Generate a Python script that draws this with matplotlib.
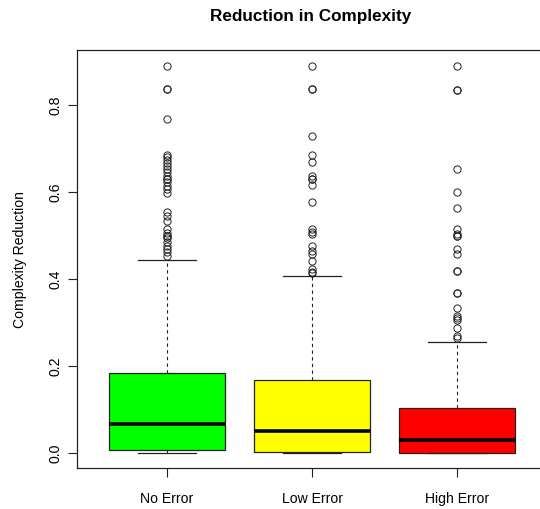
import matplotlib.pyplot as plt

plt.rcParams["font.family"] = ["Liberation Sans", "DejaVu Sans"]

# groups and box statistics
groups = ["No Error", "Low Error", "High Error"]
colors = ["#00ff00", "#ffff00", "#ff0000"]

q1 = [0.006, 0.002, 0.0]
medians = [0.066, 0.050, 0.029]
q3 = [0.182, 0.167, 0.102]
whisk_lo = [0.0, 0.0, 0.0]
whisk_hi = [0.442, 0.405, 0.253]

# outliers (repeated values are overlapping points)
out_none = [0.889, 0.835, 0.835, 0.767, 0.685, 0.679, 0.672, 0.666, 0.659,
            0.652, 0.645, 0.637, 0.629, 0.629, 0.623, 0.614, 0.606, 0.596,
            0.553, 0.545, 0.533, 0.514, 0.504, 0.499, 0.499, 0.493, 0.483,
            0.476, 0.468, 0.460, 0.453]
out_low = [0.889, 0.835, 0.835, 0.727, 0.685, 0.669, 0.636, 0.629, 0.629,
           0.616, 0.576, 0.514, 0.508, 0.503, 0.474, 0.464, 0.456, 0.441,
           0.422, 0.416, 0.413]
out_high = [0.889, 0.833, 0.833, 0.651, 0.599, 0.563, 0.514, 0.503, 0.497,
            0.497, 0.468, 0.456, 0.418, 0.418, 0.366, 0.366, 0.333, 0.314,
            0.310, 0.305, 0.287, 0.267, 0.263]
outliers = [out_none, out_low, out_high]

stats = []
for i, name in enumerate(groups):
    stats.append(dict(label=name, med=medians[i], q1=q1[i], q3=q3[i],
                      whislo=whisk_lo[i], whishi=whisk_hi[i],
                      fliers=outliers[i]))

fig = plt.figure(figsize=(5.4, 5.1), dpi=100)
ax = fig.add_axes([77 / 540, 1 - 469 / 510, 470 / 540, 418 / 510])

bp = ax.bxp(stats, positions=[1, 2, 3], widths=0.8, patch_artist=True,
            boxprops=dict(edgecolor="#222222", linewidth=0.9),
            medianprops=dict(color="black", linewidth=2.6, solid_capstyle="butt"),
            whiskerprops=dict(color="#222222", linewidth=0.8, linestyle=(0, (3, 3))),
            capprops=dict(color="#222222", linewidth=0.9),
            capwidths=0.4,
            flierprops=dict(marker="o", markersize=5.2, markerfacecolor="none",
                            markeredgecolor="#222222", markeredgewidth=0.7))
for patch, c in zip(bp["boxes"], colors):
    patch.set_facecolor(c)

ax.set_xlim(0.38, 3.62)
ax.set_ylim(-0.0356, 0.9256)
ax.set_xticks([1, 2, 3])
ax.set_xticklabels(groups, fontsize=10.1)
ax.set_yticks([0.0, 0.2, 0.4, 0.6, 0.8])
ax.set_yticklabels(["0.0", "0.2", "0.4", "0.6", "0.8"], rotation=90,
                   va="center", fontsize=10.1)
ax.tick_params(axis="both", length=6.5, width=0.8, color="#222222")
ax.tick_params(axis="x", pad=10)
ax.tick_params(axis="y", pad=4)
for s in ax.spines.values():
    s.set_color("#222222")
    s.set_linewidth(0.9)

ax.set_ylabel("Complexity Reduction", fontsize=10.1, labelpad=15.5)
fig.text(311 / 540, 1 - 17 / 510, "Reduction in Complexity", ha="center",
         va="center", fontsize=12.3, fontweight="bold")

fig.savefig("out.png", dpi=100)
